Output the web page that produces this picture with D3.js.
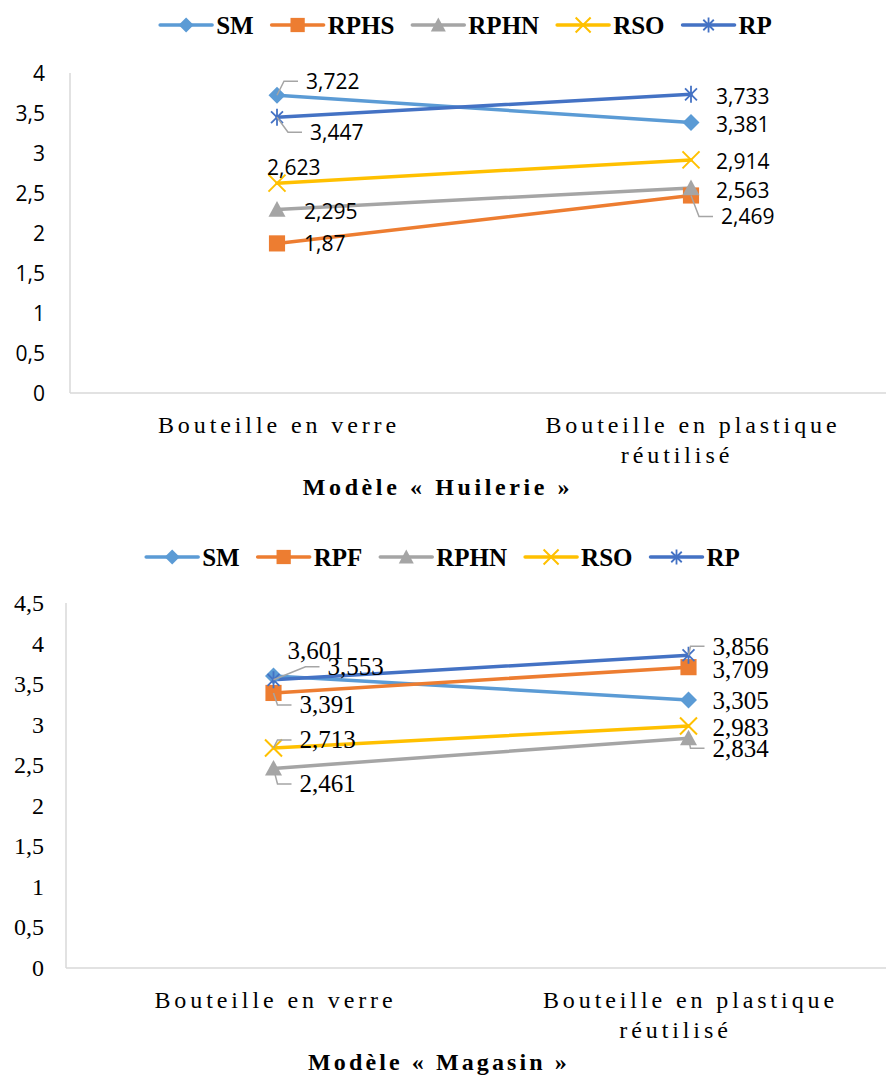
<!DOCTYPE html>
<html>
<head>
<meta charset="utf-8">
<script src="https://cdn.jsdelivr.net/npm/d3@7"></script>
<style>
body { margin: 0; background: #fff; }
</style>
</head>
<body>
<svg></svg>
<script>
// categories and tick values
const categories = ["Bouteille en verre", "Bouteille en plastique réutilisé"];
const ticksHuilerie = [0, 0.5, 1, 1.5, 2, 2.5, 3, 3.5, 4];
const ticksMagasin = [0, 0.5, 1, 1.5, 2, 2.5, 3, 3.5, 4, 4.5];

// Modèle « Huilerie »
const seriesHuilerie = ["SM", "RPHS", "RPHN", "RSO", "RP"];
const huilerieSM = [3.722, 3.381];
const huilerieRPHS = [1.87, 2.469];
const huilerieRPHN = [2.295, 2.563];
const huilerieRSO = [2.623, 2.914];
const huilerieRP = [3.447, 3.733];

// Modèle « Magasin »
const seriesMagasin = ["SM", "RPF", "RPHN", "RSO", "RP"];
const magasinSM = [3.601, 3.305];
const magasinRPF = [3.391, 3.709];
const magasinRPHN = [2.461, 2.834];
const magasinRSO = [2.713, 2.983];
const magasinRP = [3.553, 3.856];

const colors = ["#5B9BD5", "#ED7D31", "#A5A5A5", "#FFC000", "#4472C4"];
const shapes = ["diamond", "square", "triangle", "x", "star"];

const fr = d3.formatLocale({decimal: ",", thousands: " ", grouping: [3], currency: ["", "€"]});
const fmt = fr.format("~f");

const svg = d3.select("svg").attr("width", 886).attr("height", 1076);

function drawMarker(g, shape, color, s) {
    if (shape === "diamond") {
        g.append("path").attr("d", `M0,${-s}L${s},0L0,${s}L${-s},0Z`).attr("fill", color);
    } else if (shape === "square") {
        g.append("rect").attr("x", -s * 0.95).attr("y", -s * 0.95)
            .attr("width", s * 1.9).attr("height", s * 1.9).attr("fill", color);
    } else if (shape === "triangle") {
        g.append("path").attr("d", `M0,${-s}L${s},${s * 0.85}L${-s},${s * 0.85}Z`).attr("fill", color);
    } else if (shape === "x") {
        g.append("path").attr("d", `M${-s},${-s}L${s},${s}M${s},${-s}L${-s},${s}`)
            .attr("stroke", color).attr("stroke-width", 2).attr("fill", "none");
    } else if (shape === "star") {
        const a = s * 0.7;
        g.append("path").attr("d", `M0,${-s}L0,${s}M${-a},${-a}L${a},${a}M${a},${-a}L${-a},${a}`)
            .attr("stroke", color).attr("stroke-width", 1.8).attr("fill", "none");
    }
}

function drawChart(cfg) {
    const g = svg.append("g");
    const x = d3.scalePoint().domain(categories).range(cfg.xRange).padding(0.5);
    const y = d3.scaleLinear().domain(cfg.domain).range(cfg.yRange);
    const x0 = cfg.xRange[0];

    // axis lines
    g.append("line").attr("x1", x0).attr("x2", x0).attr("y1", y(cfg.domain[1])).attr("y2", y(0))
        .attr("stroke", "#D9D9D9").attr("stroke-width", 1.5);
    g.append("line").attr("x1", x0).attr("x2", 886).attr("y1", y(0)).attr("y2", y(0))
        .attr("stroke", "#D9D9D9").attr("stroke-width", 1.5);

    // y ticks
    g.append("g").selectAll("text")
        .data(cfg.ticks)
        .enter()
        .append("text")
        .attr("x", cfg.tickX)
        .attr("y", d => y(d))
        .attr("text-anchor", "end")
        .attr("dominant-baseline", "central")
        .attr("font-family", cfg.font)
        .attr("font-size", cfg.tickSize)
        .attr("fill", "#000")
        .text(d => fmt(d));

    // category labels
    categories.forEach(c => {
        const words = c === categories[1] ? ["Bouteille en plastique", "réutilisé"] : [c];
        words.forEach((w, i) => {
            g.append("text")
                .attr("x", x(c) + (i > 0 ? cfg.wrapDx : 0) + 2)
                .attr("y", cfg.catY + i * 30)
                .attr("text-anchor", "middle")
                .attr("font-family", "Liberation Serif, serif")
                .attr("font-size", 24)
                .attr("letter-spacing", 3.9)
                .attr("fill", "#000")
                .text(w);
        });
    });

    // title
    g.append("text")
        .attr("x", cfg.titleX)
        .attr("y", cfg.titleY)
        .attr("text-anchor", "middle")
        .attr("font-family", "Liberation Serif, serif")
        .attr("font-weight", "bold")
        .attr("font-size", 24)
        .attr("letter-spacing", cfg.titleLs)
        .attr("fill", "#000")
        .text(cfg.title);

    // series lines
    const line = d3.line().x((d, i) => x(categories[i])).y(d => y(d));
    cfg.series.forEach((name, si) => {
        g.append("path")
            .attr("d", line(cfg.values[si]))
            .attr("fill", "none")
            .attr("stroke", colors[si])
            .attr("stroke-width", 3.5)
            .attr("stroke-linecap", "round");
    });
    cfg.series.forEach((name, si) => {
        cfg.values[si].forEach((v, i) => {
            const m = g.append("g").attr("transform", `translate(${x(categories[i])},${y(v)})`);
            drawMarker(m, shapes[si], colors[si], 8.5);
        });
    });

    // data labels
    cfg.labels.forEach(l => {
        const v = cfg.values[l.s][l.i];
        const px = x(categories[l.i]), py = y(v);
        const lx = px + l.dx, ly = py + l.dy;
        if (l.leader) {
            g.append("polyline")
                .attr("points", `${px},${py} ${lx - 22},${ly} ${lx - 8},${ly}`)
                .attr("fill", "none")
                .attr("stroke", "#A5A5A5")
                .attr("stroke-width", 1.5);
        }
        g.append("text")
            .attr("x", lx)
            .attr("y", ly)
            .attr("dominant-baseline", "central")
            .attr("font-family", cfg.font)
            .attr("font-size", cfg.labelSize)
            .attr("fill", "#000")
            .text(fmt(v));
    });

    // legend
    const lg = g.append("g");
    let cx = 0;
    cfg.series.forEach((name, si) => {
        const item = lg.append("g").attr("transform", `translate(${cx},0)`);
        item.append("line").attr("x1", 0).attr("x2", 52).attr("y1", 0).attr("y2", 0)
            .attr("stroke", colors[si]).attr("stroke-width", 3.5).attr("stroke-linecap", "round");
        drawMarker(item.append("g").attr("transform", "translate(26,0)"), shapes[si], colors[si], 7.5);
        const t = item.append("text")
            .attr("x", 56)
            .attr("dominant-baseline", "central")
            .attr("font-family", "Liberation Serif, serif")
            .attr("font-weight", "bold")
            .attr("font-size", 25)
            .attr("fill", "#000")
            .text(name);
        cx += 56 + t.node().getComputedTextLength() + cfg.legendGap;
    });
    const total = cx - cfg.legendGap;
    lg.attr("transform", `translate(${cfg.legendCx - total / 2},${cfg.legendY})`);
}

drawChart({
    series: seriesHuilerie,
    values: [huilerieSM, huilerieRPHS, huilerieRPHN, huilerieRSO, huilerieRP],
    ticks: ticksHuilerie,
    domain: [0, 4],
    yRange: [393, 73],
    xRange: [70, 898],
    tickX: 45,
    font: "Open Sans, sans-serif",
    tickSize: 21,
    labelSize: 21,
    catY: 433,
    wrapDx: -16,
    title: "Modèle « Huilerie »",
    titleX: 438,
    titleY: 495,
    titleLs: 3.6,
    legendY: 25,
    legendCx: 466,
    legendGap: 18,
    labels: [
        {s: 0, i: 0, dx: 29, dy: -14, leader: true},
        {s: 4, i: 0, dx: 33, dy: 15, leader: true},
        {s: 3, i: 0, dx: -10, dy: -16},
        {s: 2, i: 0, dx: 27, dy: 2},
        {s: 1, i: 0, dx: 27, dy: 0},
        {s: 4, i: 1, dx: 25, dy: 2},
        {s: 0, i: 1, dx: 25, dy: 1.5},
        {s: 3, i: 1, dx: 25, dy: 1},
        {s: 2, i: 1, dx: 25, dy: 2},
        {s: 1, i: 1, dx: 30, dy: 21, leader: true}
    ]
});

drawChart({
    series: seriesMagasin,
    values: [magasinSM, magasinRPF, magasinRPHN, magasinRSO, magasinRP],
    ticks: ticksMagasin,
    domain: [0, 4.5],
    yRange: [968, 603],
    xRange: [66, 896],
    tickX: 44,
    font: "Liberation Serif, serif",
    tickSize: 24,
    labelSize: 25,
    catY: 1008,
    wrapDx: -15,
    title: "Modèle « Magasin »",
    titleX: 439,
    titleY: 1070,
    titleLs: 3.1,
    legendY: 557,
    legendCx: 443,
    legendGap: 18,
    labels: [
        {s: 0, i: 0, dx: 14, dy: -25},
        {s: 4, i: 0, dx: 54, dy: -13, leader: true},
        {s: 1, i: 0, dx: 26, dy: 12, leader: true},
        {s: 3, i: 0, dx: 26, dy: -8, leader: true},
        {s: 2, i: 0, dx: 26, dy: 15.6, leader: true},
        {s: 4, i: 1, dx: 24, dy: -9, leader: true},
        {s: 1, i: 1, dx: 24, dy: 2},
        {s: 0, i: 1, dx: 24, dy: 1},
        {s: 3, i: 1, dx: 24, dy: 1},
        {s: 2, i: 1, dx: 24, dy: 10, leader: true}
    ]
});
</script>
</body>
</html>
